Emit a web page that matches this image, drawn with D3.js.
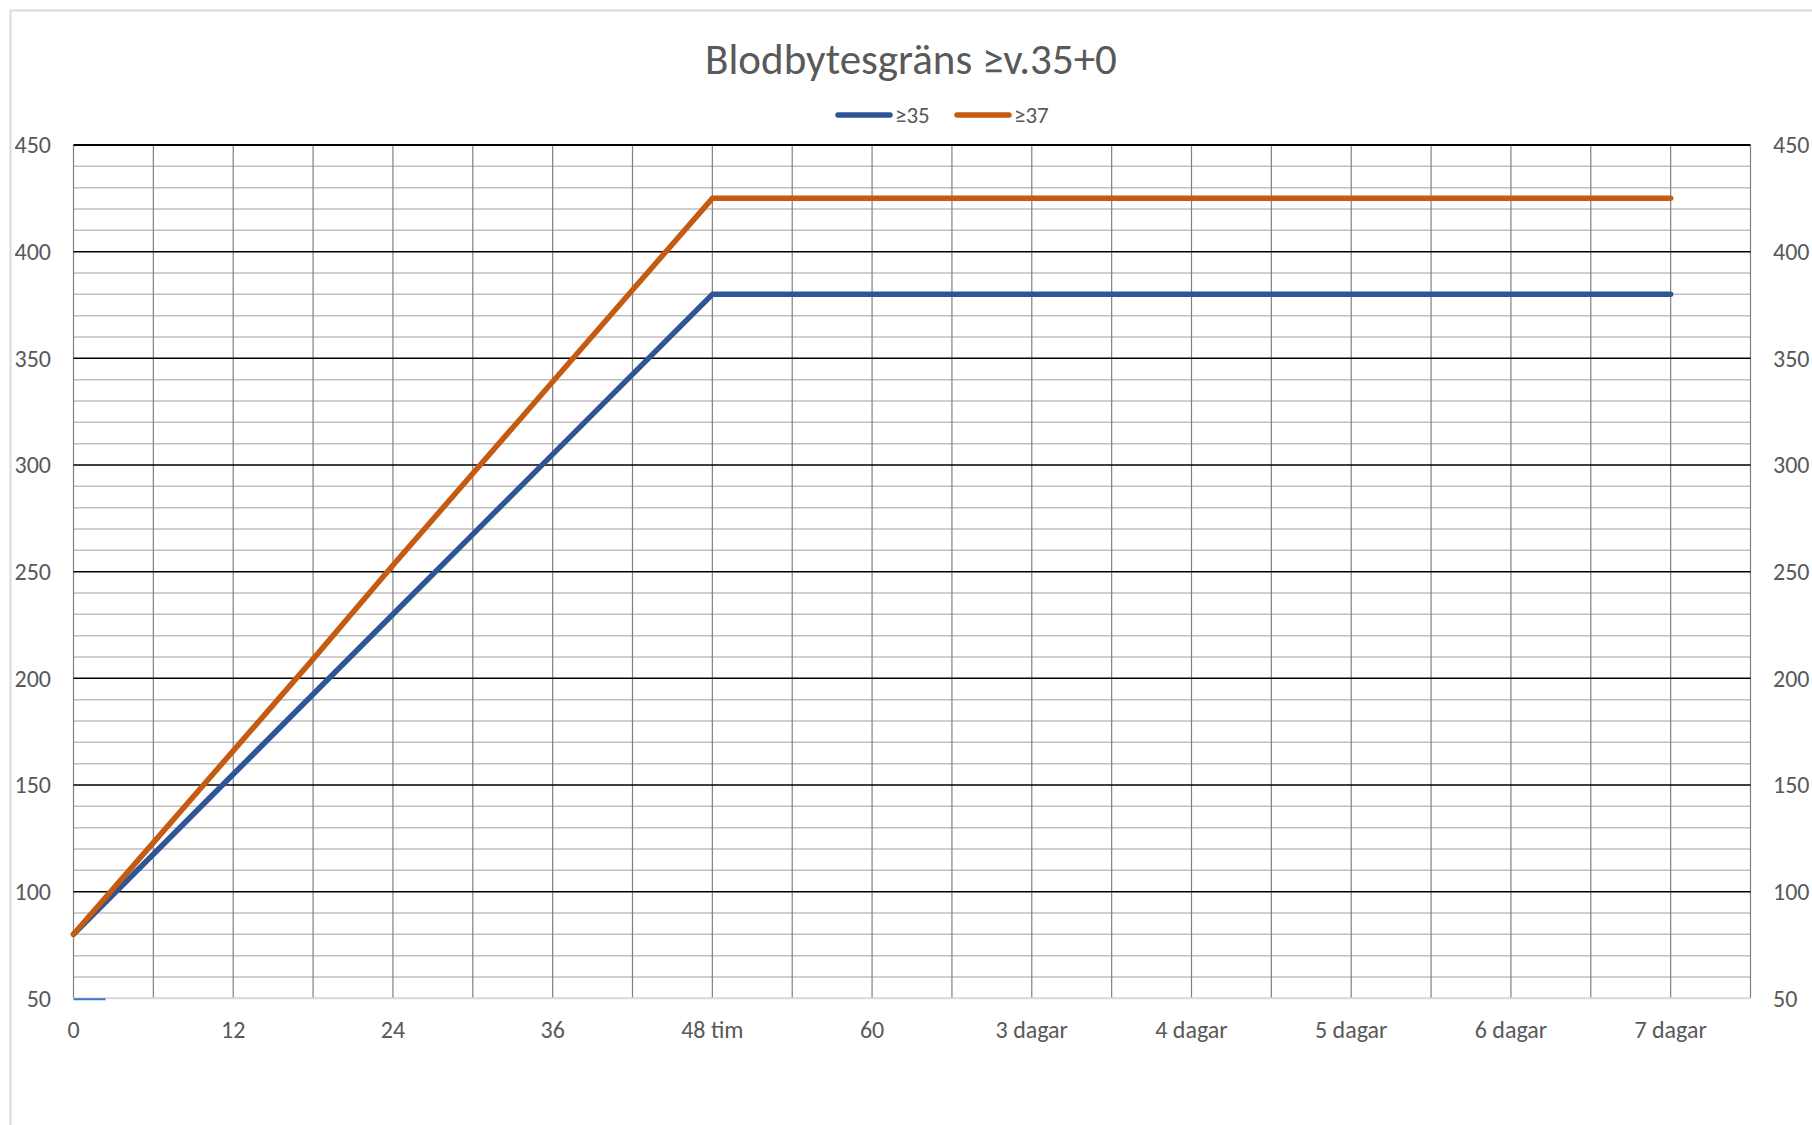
<!DOCTYPE html>
<html>
<head>
<meta charset="utf-8">
<script src="https://cdn.jsdelivr.net/npm/d3@7"></script>
<style>
  body { margin: 0; background: #fff; }
  svg { display: block; font-family: Carlito, Lato, sans-serif; }
</style>
</head>
<body>
<div id="chart"></div>
<script>
// Chart data
const title = 'Blodbytesgräns \u2265v.35+0';
const seriesNames = ['\u226535', '\u226537'];
const seriesColors = ['#2f5597', '#c55a11'];
// 22 category slots (every 6 h up to 48 h, then daily steps); labels on every second slot
const xLabels = ['0', '12', '24', '36', '48 tim', '60', '3 dagar', '4 dagar', '5 dagar', '6 dagar', '7 dagar'];
const categoryCount = 22;
const labelStep = 2;
const values35 = [80, 117.5, 155, 192.5, 230, 267.5, 305, 342.5, 380, 380, 380, 380, 380, 380, 380, 380, 380, 380, 380, 380, 380];
const values37 = [80, 123, 166, 209, 253, 296, 339, 382, 425, 425, 425, 425, 425, 425, 425, 425, 425, 425, 425, 425, 425];
const yMin = 50, yMax = 450, yMajor = 50, yMinor = 10;
// small stray stub seen at the bottom-left of the original
const stub = [{ i: 0, v: 50 }, { i: 0.4, v: 50 }];

const W = 1812, H = 1125;
const plot = { left: 73.5, right: 1750.5, top: 145, bottom: 998.3 };

const svg = d3.select('#chart').append('svg')
    .attr('width', W)
    .attr('height', H);

// outer chart frame
svg.append('rect')
    .attr('x', 10.5).attr('y', 10.5)
    .attr('width', W + 20).attr('height', H + 20)
    .attr('fill', '#fff')
    .attr('stroke', '#d9d9d9')
    .attr('stroke-width', 2);

const x = d3.scaleLinear().domain([0, categoryCount - 1]).range([plot.left, plot.right]);
const y = d3.scaleLinear().domain([yMin, yMax]).range([plot.bottom, plot.top]);

const grid = svg.append('g');

// minor horizontal gridlines
grid.selectAll('.minor')
    .data(d3.range(yMin + yMinor, yMax, yMinor).filter(v => v % yMajor !== 0))
    .enter().append('line')
    .attr('x1', plot.left).attr('x2', plot.right)
    .attr('y1', d => y(d)).attr('y2', d => y(d))
    .attr('stroke', '#bfbfbf')
    .attr('stroke-width', 1.5);

// vertical gridlines at each category
grid.selectAll('.vgrid')
    .data(d3.range(0, categoryCount))
    .enter().append('line')
    .attr('x1', d => x(d)).attr('x2', d => x(d))
    .attr('y1', plot.top).attr('y2', plot.bottom)
    .attr('stroke', '#808080')
    .attr('stroke-width', 1.2);

// major horizontal gridlines
grid.selectAll('.major')
    .data(d3.range(yMin + yMajor, yMax + 1, yMajor))
    .enter().append('line')
    .attr('x1', plot.left).attr('x2', plot.right)
    .attr('y1', d => y(d)).attr('y2', d => y(d))
    .attr('stroke', '#000')
    .attr('stroke-width', d => d === yMax ? 2 : 1.5);

// category axis line
grid.append('line')
    .attr('x1', plot.left).attr('x2', plot.right)
    .attr('y1', y(yMin)).attr('y2', y(yMin))
    .attr('stroke', '#d9d9d9')
    .attr('stroke-width', 2);

// y tick labels, both sides
const yTicks = d3.range(yMin, yMax + 1, yMajor);
svg.append('g').selectAll('text')
    .data(yTicks)
    .enter().append('text')
    .attr('x', 51)
    .attr('y', d => y(d))
    .attr('dy', '0.35em')
    .attr('text-anchor', 'end')
    .attr('fill', '#595959')
    .attr('font-size', '24px')
    .text(d => d);

svg.append('g').selectAll('text')
    .data(yTicks)
    .enter().append('text')
    .attr('x', 1773)
    .attr('y', d => y(d))
    .attr('dy', '0.35em')
    .attr('text-anchor', 'start')
    .attr('fill', '#595959')
    .attr('font-size', '24px')
    .text(d => d);

// x tick labels
svg.append('g').selectAll('text')
    .data(xLabels)
    .enter().append('text')
    .attr('x', (d, i) => x(i * labelStep))
    .attr('y', 1030)
    .attr('dy', '0.35em')
    .attr('text-anchor', 'middle')
    .attr('fill', '#595959')
    .attr('font-size', '24px')
    .text(d => d);

// series lines
const line = d3.line()
    .x((d, i) => x(i))
    .y(d => y(d));

[values35, values37].forEach((vals, k) => {
    svg.append('path')
        .datum(vals)
        .attr('d', line)
        .attr('fill', 'none')
        .attr('stroke', seriesColors[k])
        .attr('stroke-width', 5.5)
        .attr('stroke-linejoin', 'round')
        .attr('stroke-linecap', 'round');
});

svg.append('path')
    .datum(stub)
    .attr('d', d3.line().x(d => x(d.i)).y(d => y(d.v) + 1))
    .attr('stroke', '#4472c4')
    .attr('stroke-width', 2);

// title
svg.append('text')
    .attr('x', 911)
    .attr('y', 59)
    .attr('dy', '0.35em')
    .attr('text-anchor', 'middle')
    .attr('fill', '#595959')
    .attr('font-size', '43px')
    .text(title);

// legend
const legend = svg.append('g');
const legendItems = [{ x: 838 }, { x: 957 }];
legendItems.forEach((it, k) => {
    legend.append('line')
        .attr('x1', it.x).attr('x2', it.x + 52)
        .attr('y1', 115).attr('y2', 115)
        .attr('stroke', seriesColors[k])
        .attr('stroke-width', 5.5)
        .attr('stroke-linecap', 'round');
    legend.append('text')
        .attr('x', it.x + 57)
        .attr('y', 115)
        .attr('dy', '0.35em')
        .attr('fill', '#595959')
        .attr('font-size', '23px')
        .text(seriesNames[k]);
});
</script>
</body>
</html>
